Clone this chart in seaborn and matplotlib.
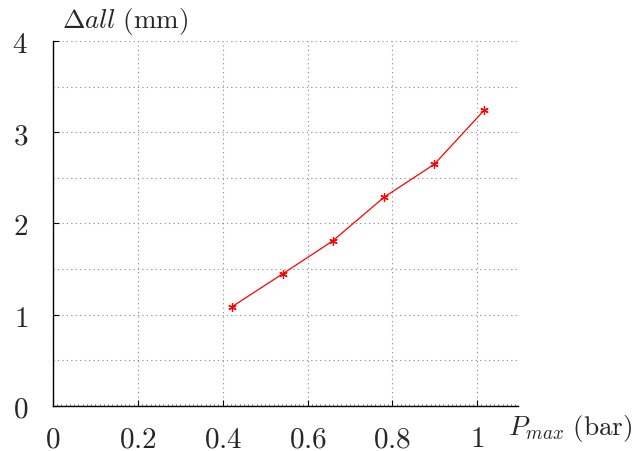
import matplotlib
matplotlib.use("Agg")
import matplotlib.pyplot as plt
import seaborn as sns
import numpy as np
import pandas as pd
from matplotlib.ticker import FuncFormatter, MultipleLocator

# data
p_max = [0.421, 0.541, 0.659, 0.781, 0.899, 1.016]
delta_all = [1.085, 1.447, 1.808, 2.29, 2.65, 3.24]

x_ticks = [0, 0.2, 0.4, 0.6, 0.8, 1.0]
y_ticks = [0, 1, 2, 3, 4]

sns.set_style("white")
plt.rcParams["mathtext.fontset"] = "cm"
plt.rcParams["font.family"] = ["DejaVu Serif"]

df = pd.DataFrame({"p": p_max, "d": delta_all})

fig = plt.figure(figsize=(6.33, 4.52), dpi=100)
ax = fig.add_axes([0.0837, 0.0996, 0.7346, 0.8075])

sns.lineplot(data=df, x="p", y="d", ax=ax, color="red", lw=0.9,
             marker=(6, 2, 0), markersize=6, markeredgecolor="red",
             markeredgewidth=0.9)

ax.set_xlim(0, 1.096)
ax.set_ylim(0, 4)
ax.set_xticks(x_ticks)
ax.set_yticks(y_ticks)
ax.yaxis.set_minor_locator(MultipleLocator(0.5))
ax.xaxis.set_minor_locator(MultipleLocator(0.01))

fmt = FuncFormatter(lambda v, pos: r"$%g$" % round(v, 2))
ax.xaxis.set_major_formatter(fmt)
ax.yaxis.set_major_formatter(fmt)

ax.grid(True, which="major", color="#888888", linestyle=(0, (1, 3)), lw=0.8)
ax.grid(True, which="minor", axis="y", color="#888888", linestyle=(0, (1, 3)), lw=0.8)

for s in ["top", "right"]:
    ax.spines[s].set_visible(False)
for s in ["left", "bottom"]:
    ax.spines[s].set_color("black")
    ax.spines[s].set_linewidth(1.0)

ax.tick_params(axis="x", which="major", direction="in", length=4, pad=13,
               labelsize=21, bottom=True, color="black")
ax.tick_params(axis="x", which="minor", direction="in", length=1.5,
               bottom=True, color="#555555", width=0.6)
ax.tick_params(axis="y", which="major", direction="in", length=4, pad=18,
               labelsize=21, left=True, color="black")
ax.tick_params(axis="y", which="minor", direction="in", length=0, left=True)

ax.set_xlabel("")
ax.set_ylabel("")
fig.text(0.098, 0.952, r"$\Delta all\ \mathrm{(mm)}$", fontsize=19.5,
         ha="left", va="center")
fig.text(0.802, 0.053, r"$P_{max}\ \mathrm{(bar)}$", fontsize=19.5,
         ha="left", va="center")

fig.savefig("out.png", dpi=100)
